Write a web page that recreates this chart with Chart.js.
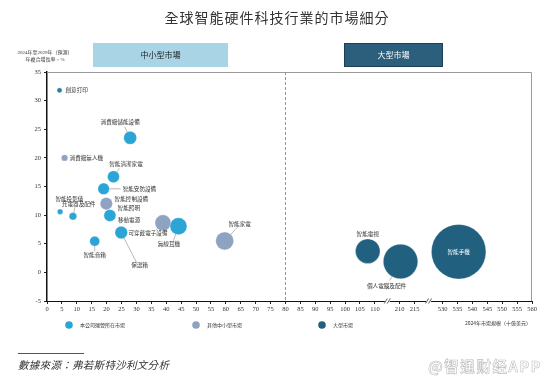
<!DOCTYPE html>
<html><head><meta charset="utf-8">
<script src="https://cdn.jsdelivr.net/npm/chart.js@4/dist/chart.umd.min.js"></script>
<style>
html,body{margin:0;padding:0;background:#fff;}
#wrap{position:relative;width:554px;height:381px;overflow:hidden;font-family:"Noto Sans CJK TC","Noto Sans",sans-serif;}
canvas{position:absolute;left:0;top:0;}
.t{position:absolute;white-space:nowrap;}
</style></head><body>
<div id="wrap">
<canvas id="c" width="554" height="381"></canvas>
<div class="t" style="left:0;width:554px;top:7px;text-align:center;font-size:14px;color:#333;letter-spacing:1px;">全球智能硬件科技行業的市場細分</div>
<div class="t" style="left:4px;width:82px;top:50px;text-align:center;font-size:5px;line-height:6.5px;color:#333;font-family:'Liberation Serif','Noto Sans CJK TC',serif;">2024年至2029年（預測）<br>年複合增長率，%</div>
<div class="t" style="left:93px;top:43px;width:135px;height:24px;line-height:24px;background:#a9d4e6;text-align:center;font-size:8px;color:#222;">中小型市場</div>
<div class="t" style="left:344px;top:43px;width:97px;height:22px;line-height:22px;background:#2b5f7c;border:1px solid #1b3f55;text-align:center;font-size:8px;color:#fff;">大型市場</div>
<div class="t" style="left:18px;top:353px;width:66px;height:1px;background:#555;"></div>
<div class="t" style="left:18px;top:357px;font-size:10.5px;font-style:italic;color:#333;letter-spacing:0.3px;">數據來源：弗若斯特沙利文分析</div>
<div class="t" style="left:428px;top:355px;font-size:14.5px;letter-spacing:1.6px;color:#fff;-webkit-text-stroke:0.6px #bdbdbd;font-weight:bold;">@智通财经APP</div>
</div>
<script>
// ---- data ----
const ownNames  = ['創意打印','消費級儲能設備','智能清潔家電','智能安防設備','移動電源','智能投影儀','充電器及配件','無線耳機','保溫箱','智能音箱'];
const ownSize   = [4.2, 27.9, 22.3, 19.0, 21.1, 4.4, 8.7, 44.1, 24.9, 16.0];
const ownCagr   = [31.8, 23.5, 16.7, 14.6, 9.95, 10.6, 9.8, 8.07, 6.96, 5.44];
const ownR      = [2.5, 6.5, 6, 5.8, 6, 2.8, 3.8, 8.5, 6.3, 5];

const hiddenNames = ['智能照明'];
const hiddenSize  = [19.9];
const hiddenCagr  = [12.0];
const hiddenR     = [5];

const otherNames = ['消費級無人機','智能控制設備','可穿戴電子設備','智能家電'];
const otherSize  = [5.9, 19.9, 38.9, 59.6];
const otherCagr  = [20.0, 12.0, 8.65, 5.5];
const otherR     = [3.2, 6.2, 8, 9];

const largeNames = ['智能電視','個人電腦及配件','智能手機'];
const largeSize  = [107.6, 210.3, 535.4];
const largeCagr  = [3.7, 1.9, 3.6];
const largeR     = [12.3, 17.3, 27.3];

const xTickValues = [0,5,10,15,20,25,30,35,40,45,50,55,60,65,70,75,80,85,90,95,100,105,110,210,215,530,535,540,545,550,555,560];
const yTicks = [-5,0,5,10,15,20,25,30,35];
const legendNames = ['本公司運營所在市場','其他中小型市場','大型市場'];

// ---- broken x axis mapping ----
const xSegments = [{min:-10,max:150,shift:0},{min:150,max:400,shift:-91.7},{min:400,max:700,shift:-397.3}];
function toAxis(v){ for(const s of xSegments){ if(v>=s.min && v<s.max) return v+s.shift; } return v; }
const xMaxAxis = toAxis(560);
const breakMarks = [(toAxis(110)+toAxis(210))/2, (toAxis(215)+toAxis(530))/2];

function pts(xs, ys, rs){ return xs.map((x,i)=>({x:toAxis(x), y:ys[i], r:rs[i]})); }

const C_OWN='#2ba4d6', C_OTHER='#8fa2c2', C_LARGE='#21607f';

const labelLayout = {
 '創意打印':{dx:6,dy:0,align:'left'},
 '消費級儲能設備':{dx:-10,dy:-16,align:'center',lead:[-5.5,-11]},
 '智能清潔家電':{dx:12.5,dy:-13,align:'center',lead:[6,-8.5]},
 '智能安防設備':{dx:19,dy:0,align:'left',lead:[17,0]},
 '移動電源':{dx:8,dy:4.7,align:'left'},
 '智能投影儀':{dx:9.3,dy:-12.7,align:'center'},
 '充電器及配件':{dx:5.7,dy:-12,align:'center',lead:[2,-9]},
 '無線耳機':{dx:-9.5,dy:18,align:'center',lead:[-5,14.5]},
 '保溫箱':{dx:18.3,dy:32.7,align:'center',lead:[15,29.5]},
 '智能音箱':{dx:0,dy:14,align:'center',lead:[0,10]},
 '智能照明':{dx:11.3,dy:4.3,align:'left'},
 '消費級無人機':{dx:5,dy:0,align:'left'},
 '智能控制設備':{dx:8.3,dy:-4.7,align:'left'},
 '可穿戴電子設備':{dx:-15,dy:10.5,align:'center',lead:[-7.5,7.5]},
 '智能家電':{dx:15,dy:-17.4,align:'center',lead:[13,-14]},
 '智能電視':{dx:0,dy:-17,align:'center'},
 '個人電腦及配件':{dx:-14,dy:24,align:'center',lead:[-11,19]},
 '智能手機':{dx:0,dy:0,align:'center',color:'#fff'}
};
const legendPos = [[69,325],[196,325],[322,325]];

const decor = {
 id:'decor',
 beforeDatasetsDraw(chart){
   const {ctx, chartArea:a, scales:{x}} = chart;
   ctx.save();
   ctx.strokeStyle='#9a9a9a'; ctx.lineWidth=1;
   ctx.beginPath(); ctx.moveTo(a.left,a.top+0.5); ctx.lineTo(a.right-0.5,a.top+0.5); ctx.lineTo(a.right-0.5,a.bottom); ctx.stroke();
   const px = Math.round(x.getPixelForValue(80))+0.5;
   ctx.strokeStyle='#7f9bb0'; ctx.setLineDash([3,2]);
   ctx.beginPath(); ctx.moveTo(px,a.top); ctx.lineTo(px,a.bottom); ctx.stroke();
   ctx.restore();
 },
 afterDraw(chart){
   const {ctx, chartArea:a, scales:{x}} = chart;
   ctx.save();
   breakMarks.forEach(v=>{
     const p = x.getPixelForValue(v);
     ctx.fillStyle='#fff'; ctx.fillRect(p-2.5,a.bottom-1,5,3);
     ctx.strokeStyle='#333'; ctx.lineWidth=0.8;
     [-1.5,1.5].forEach(o=>{ctx.beginPath();ctx.moveTo(p+o-1.5,a.bottom+2.5);ctx.lineTo(p+o+1.5,a.bottom-2.5);ctx.stroke();});
   });
   ctx.font='5.6px "Noto Sans CJK TC", sans-serif';
   ctx.textBaseline='middle';
   chart.data.datasets.forEach((ds,di)=>{
     const meta = chart.getDatasetMeta(di);
     meta.data.forEach((el,i)=>{
       const name = ds.names[i]; const L = labelLayout[name]; if(!L) return;
       const cx=el.x, cy=el.y, r=ds.data[i].r;
       if(L.lead){
         const [lx,ly]=L.lead; const d=Math.hypot(lx,ly);
         ctx.strokeStyle='#8a8a8a'; ctx.lineWidth=0.6;
         ctx.beginPath(); ctx.moveTo(cx+lx,cy+ly); ctx.lineTo(cx+lx/d*r,cy+ly/d*r); ctx.stroke();
       }
       ctx.fillStyle=L.color||'#333'; ctx.textAlign=L.align;
       ctx.fillText(name,cx+L.dx,cy+L.dy);
     });
   });
   const cols=[C_OWN,C_OTHER,C_LARGE];
   ctx.font='5px "Noto Sans CJK TC", sans-serif'; ctx.textAlign='left';
   legendNames.forEach((n,i)=>{
     const [lx,ly]=legendPos[i];
     ctx.fillStyle=cols[i]; ctx.beginPath(); ctx.arc(lx,ly,3.8,0,Math.PI*2); ctx.fill();
     ctx.fillStyle='#333'; ctx.fillText(n,lx+11,ly);
   });
   ctx.textAlign='right';
   ctx.fillText('2024年市場規模（十億美元）',a.right-1,323);
   ctx.restore();
 }
};

new Chart(document.getElementById('c'),{
 type:'bubble',
 data:{datasets:[
   {label:legendNames[0],names:ownNames,data:pts(ownSize,ownCagr,ownR),backgroundColor:ownNames.map((n,i)=>i===0?'#2c7f9e':C_OWN),borderColor:'rgba(255,255,255,0.6)',borderWidth:0.5,order:1},
   {label:legendNames[1],names:otherNames,data:pts(otherSize,otherCagr,otherR),backgroundColor:C_OTHER,borderColor:'rgba(255,255,255,0.6)',borderWidth:0.5,order:2},
   {label:'hidden',names:hiddenNames,data:pts(hiddenSize,hiddenCagr,hiddenR),backgroundColor:C_OWN,borderWidth:0,order:3},
   {label:legendNames[2],names:largeNames,data:pts(largeSize,largeCagr,largeR),backgroundColor:C_LARGE,borderColor:'rgba(255,255,255,0.6)',borderWidth:0.5,order:4}
 ]},
 options:{
   responsive:false, animation:false, devicePixelRatio:1,
   layout:{autoPadding:false,padding:{top:72,right:22,left:0,bottom:0}},
   plugins:{legend:{display:false},tooltip:{enabled:false},title:{display:false}},
   scales:{
     x:{type:'linear',min:0,max:xMaxAxis,
        afterFit(s){s.height=80;s.paddingLeft=0;s.paddingRight=0;},
        afterBuildTicks(s){s.ticks=xTickValues.map(v=>({value:toAxis(v)}));},
        ticks:{autoSkip:false,maxRotation:0,padding:1,color:'#333',font:{family:'Liberation Serif',size:6.5},callback:(v,i)=>String(xTickValues[i])},
        grid:{drawOnChartArea:false,tickLength:3,color:'#222'},
        border:{color:'#111',width:1}},
     y:{type:'linear',min:-5,max:35,
        afterFit(s){s.width=47;s.paddingTop=0;s.paddingBottom=0;},
        afterBuildTicks(s){s.ticks=yTicks.map(v=>({value:v}));},
        ticks:{padding:3,color:'#333',font:{family:'Liberation Serif',size:6.5}},
        grid:{drawOnChartArea:false,tickLength:3,color:'#222'},
        border:{color:'#111',width:1.5}}
   }
 },
 plugins:[decor]
});
</script>
</body></html>
